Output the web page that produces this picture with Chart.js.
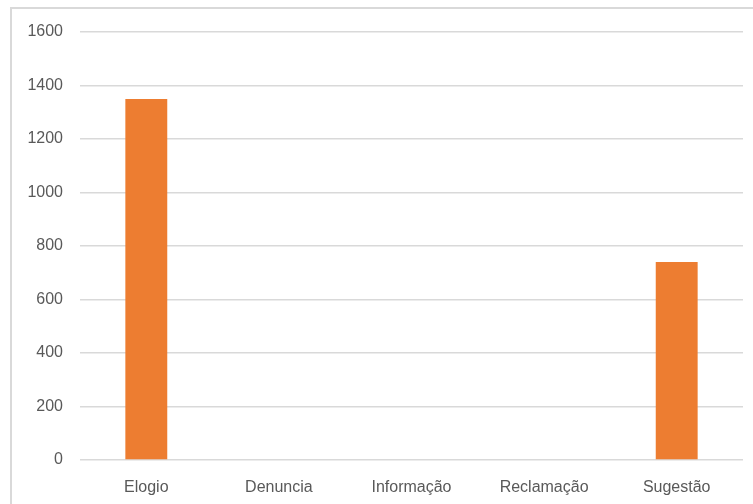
<!DOCTYPE html>
<html>
<head>
<meta charset="utf-8">
<script src="https://cdn.jsdelivr.net/npm/chart.js@4/dist/chart.umd.min.js"></script>
<style>
  body { margin: 0; background: #fff; overflow: hidden; }
  #frame { position: absolute; left: 10px; top: 7px; width: 800px; height: 600px; border: 2px solid #d9d9d9; }
  #chart { position: absolute; left: 0; top: 0; }
</style>
</head>
<body>
<div id="frame"></div>
<canvas id="chart" width="753" height="504"></canvas>
<script>
const categories = ['Elogio', 'Denuncia', 'Informação', 'Reclamação', 'Sugestão'];
const counts = [1350, 0, 0, 0, 740];
const yTicks = [0, 200, 400, 600, 800, 1000, 1200, 1400, 1600];

const textColor = '#595959';
const gridColor = '#d9d9d9';

new Chart(document.getElementById('chart'), {
  type: 'bar',
  data: {
    labels: categories,
    datasets: [
      {
        data: counts,
        backgroundColor: '#ed7d31',
        barPercentage: 0.316,
        categoryPercentage: 1
      }
    ]
  },
  options: {
    responsive: false,
    animation: false,
    layout: { padding: { top: 32, right: 10, left: 0, bottom: 0 } },
    plugins: {
      legend: { display: false },
      tooltip: { enabled: false }
    },
    scales: {
      x: {
        grid: { display: false },
        border: { display: false },
        ticks: {
          color: textColor,
          font: { family: 'Liberation Sans', size: 16 },
          padding: 10
        },
        afterFit: (scale) => { scale.height = 44; }
      },
      y: {
        min: 0,
        max: 1600,
        afterBuildTicks: (scale) => { scale.ticks = yTicks.map((v) => ({ value: v })); },
        grid: { color: gridColor, lineWidth: 1.5, drawTicks: false },
        border: { display: false },
        ticks: {
          color: textColor,
          font: { family: 'Liberation Sans', size: 16 },
          padding: 17,
          callback: (v) => String(v)
        },
        afterFit: (scale) => { scale.width = 80; }
      }
    }
  }
});
</script>
</body>
</html>
